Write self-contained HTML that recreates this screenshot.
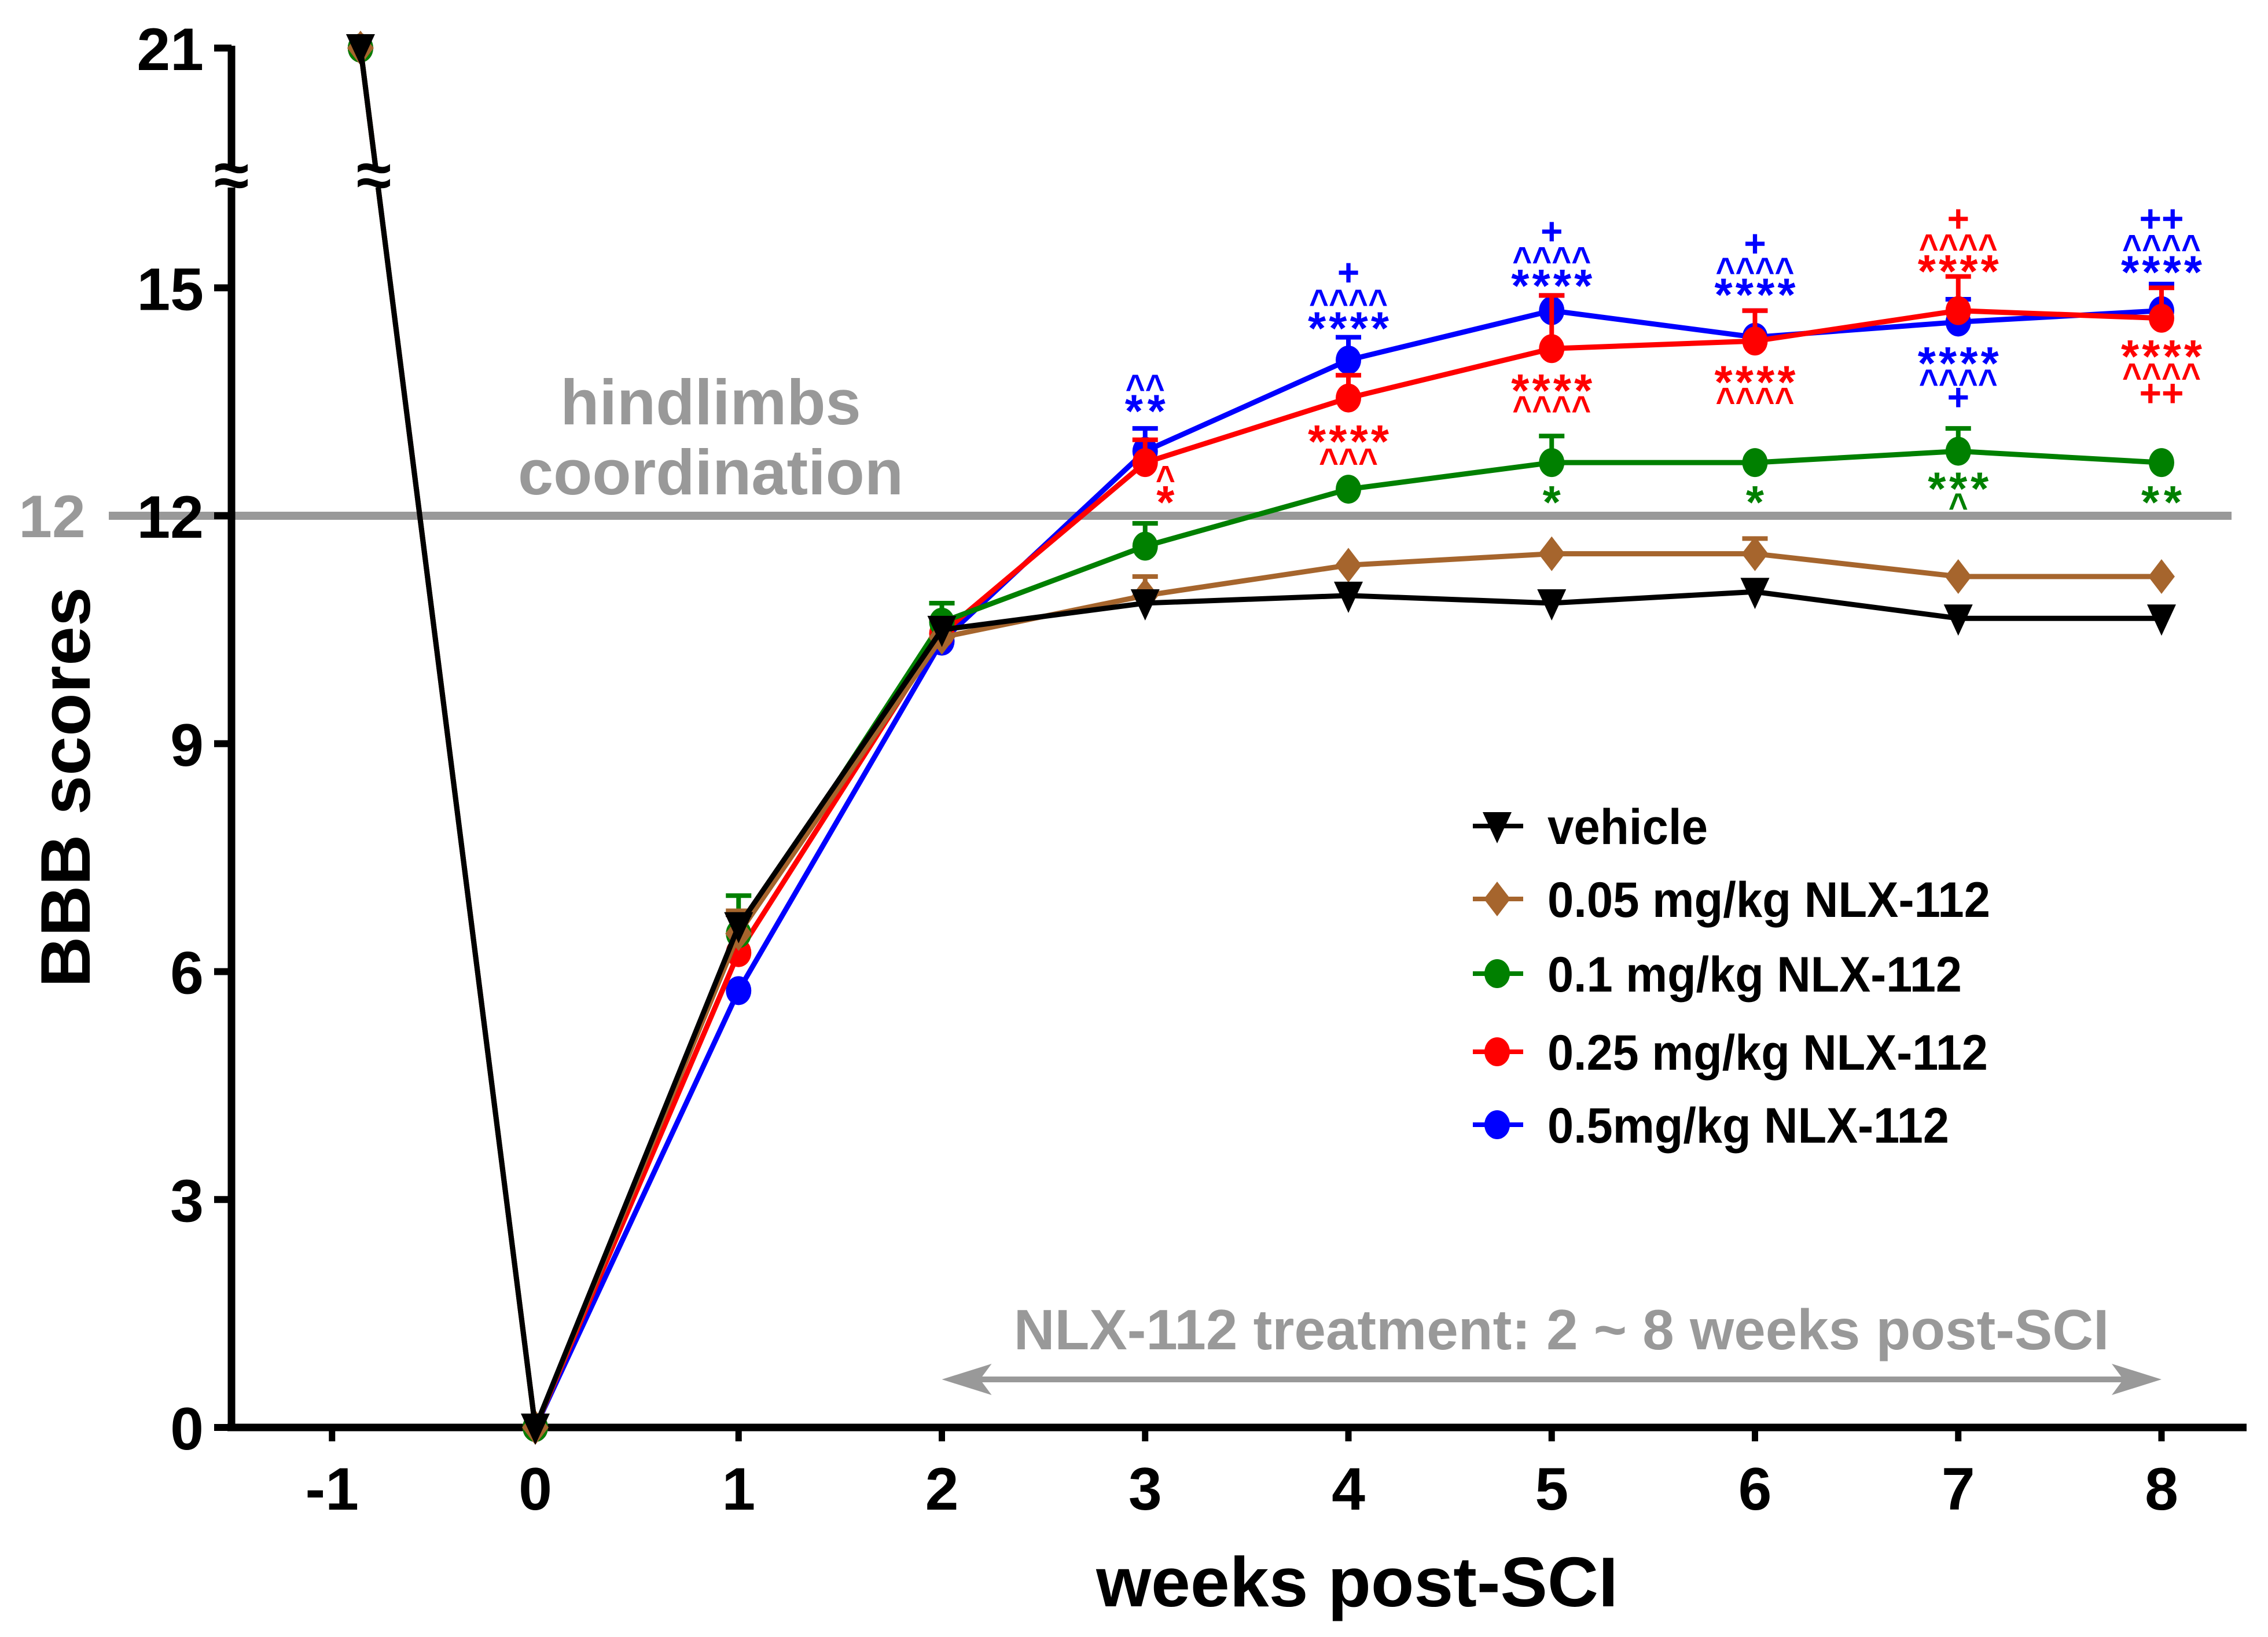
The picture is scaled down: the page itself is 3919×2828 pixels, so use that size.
<!DOCTYPE html>
<html><head><meta charset="utf-8"><style>
html,body{margin:0;padding:0;background:#fff}
svg{display:block;font-family:"Liberation Sans",Arial,sans-serif;font-weight:bold}
</style></head><body>
<svg id="chart" width="3919" height="2828" viewBox="0 0 3919 2828" xmlns="http://www.w3.org/2000/svg">
<g id="axes"></g>
<g id="plot"></g>
<g id="legend"></g>
</svg>
<script>
const weeks = [-0.86,0,1,2,3,4,5,6,7,8];
const vehicle = [21,0,6.6,10.5,10.85,10.95,10.85,11.0,10.65,10.65];
const dose005 = [21,0,6.5,10.4,10.95,11.35,11.5,11.5,11.2,11.2];
const dose01 = [21,0,6.5,10.6,11.6,12.35,12.7,12.7,12.85,12.7];
const dose025 = [21,0,6.25,10.45,12.7,13.55,14.2,14.3,14.7,14.6];
const dose05 = [21,0,5.75,10.35,12.85,14.05,14.7,14.35,14.55,14.7];
const errVehicle = [0,0,0.15,0.1,0.1,0.1,0.1,0.1,0.1,0.1];
const err005 = [0,0,0.3,0.1,0.25,0.1,0.1,0.2,0.1,0.1];
const err01 = [0,0,0.5,0.25,0.3,0.1,0.35,0.1,0.3,0.1];
const err025 = [0,0,0.5,0.2,0.3,0.3,0.7,0.4,0.45,0.4];
const err05 = [0,0,0.1,0.1,0.3,0.3,0.2,0.35,0.3,0.35];
const yTicks = [0,3,6,9,12,15,21];
const xTicks = [-1,0,1,2,3,4,5,6,7,8];
const seriesNames = ["vehicle","0.05 mg/kg NLX-112","0.1 mg/kg NLX-112","0.25 mg/kg NLX-112","0.5mg/kg NLX-112"];
// annotations: [week, level (data units), text, color]
const annotations = [
 [3,13.77,"^^","#0000ff"],[3,13.49,"**","#0000ff"],[3.1,12.57,"^","#ff0000"],[3.1,12.29,"*","#ff0000"],
 [4,15.2,"+","#0000ff"],[4,14.89,"^^^^","#0000ff"],[4,14.58,"****","#0000ff"],[4,13.09,"****","#ff0000"],[4,12.8,"^^^","#ff0000"],
 [5,15.74,"+","#0000ff"],[5,15.45,"^^^^","#0000ff"],[5,15.14,"****","#0000ff"],[5,13.76,"****","#ff0000"],[5,13.49,"^^^^","#ff0000"],[5,12.29,"*","#008000"],
 [6,15.58,"+","#0000ff"],[6,15.31,"^^^^","#0000ff"],[6,15.02,"****","#0000ff"],[6,13.87,"****","#ff0000"],[6,13.6,"^^^^","#ff0000"],[6,12.29,"*","#008000"],
 [7,15.91,"+","#ff0000"],[7,15.62,"^^^^","#ff0000"],[7,15.33,"****","#ff0000"],[7,14.12,"****","#0000ff"],[7,13.84,"^^^^","#0000ff"],[7,13.56,"+","#0000ff"],[7,12.47,"***","#008000"],[7,12.21,"^","#008000"],
 [8,15.91,"++","#0000ff"],[8,15.61,"^^^^","#0000ff"],[8,15.32,"****","#0000ff"],[8,14.21,"****","#ff0000"],[8,13.92,"^^^^","#ff0000"],[8,13.61,"++","#ff0000"],[8,12.29,"**","#008000"]
];
const NS="http://www.w3.org/2000/svg";
function X(w){return 925+w*351.25;}
function Y(v){ if(v>18) return 83; return 2466 - v*131.25; }
function mk(tag,attrs,parent){const e=document.createElementNS(NS,tag);for(const k in attrs)e.setAttribute(k,attrs[k]);parent.appendChild(e);return e;}
const axes=document.getElementById('axes'),plot=document.getElementById('plot'),legend=document.getElementById('legend');

let e=mk('line',{x1:188,x2:3856,y1:Y(12),y2:Y(12),stroke:'#999',"stroke-width":14},axes);


e=mk('text',{x:90,y:Y(12)+37,"text-anchor":"middle","font-size":104,fill:'#999'},axes);e.textContent="12";


e=mk('text',{x:1228,y:733,"text-anchor":"middle","font-size":110,fill:'#999'},axes);e.textContent="hindlimbs";


e=mk('text',{x:1228,y:854,"text-anchor":"middle","font-size":110,fill:'#999'},axes);e.textContent="coordination";



e=mk('line',{x1:400,x2:400,y1:Y(21)-4,y2:2472,stroke:'#000',"stroke-width":13},axes);


e=mk('line',{x1:393,x2:3882,y1:2466,y2:2466,stroke:'#000',"stroke-width":13},axes);


yTicks.forEach(t=>{
 const y=Y(t);
 const l=mk('line',{x1:370,x2:400,y1:y,y2:y,stroke:'#000',"stroke-width":12},axes);
 
 
 const tx=mk('text',{x:352,y:y+38,"text-anchor":"end","font-size":104,fill:'#000'},axes);tx.textContent=t;
 
 
});
xTicks.forEach(t=>{
 const x=X(t);
 const l=mk('line',{x1:x,x2:x,y1:2466,y2:2490,stroke:'#000',"stroke-width":11},axes);
 
 
 const tx=mk('text',{x:x,y:2608,"text-anchor":"middle","font-size":104,fill:'#000'},axes);tx.textContent=t;
 
 
});
e=mk('text',{x:2345,y:2775,"text-anchor":"middle","font-size":122,fill:'#000'},axes);e.textContent="weeks post-SCI";


e=mk('text',{x:155,y:1360,"text-anchor":"middle","font-size":122,fill:'#000',transform:'rotate(-90 155 1360)'},axes);e.textContent="BBB scores";



e=mk('text',{x:2698,y:2331,"text-anchor":"middle","font-size":98,fill:'#999'},axes);e.textContent="NLX-112 treatment: 2 ~ 8 weeks post-SCI";


e=mk('line',{x1:X(2)+30,x2:X(8)-30,y1:2383,y2:2383,stroke:'#999',"stroke-width":10},axes);


mk('polygon',{points:`${X(2)},2383 ${X(2)+86},2356 ${X(2)+66},2383 ${X(2)+86},2410`,fill:'#999'},axes);
mk('polygon',{points:`${X(8)},2383 ${X(8)-86},2356 ${X(8)-66},2383 ${X(8)-86},2410`,fill:'#999'},axes);

const series=[
 {vals:vehicle,err:errVehicle,color:'#000000',shape:'tri',name:'vehicle'},
 {vals:dose005,err:err005,color:'#a6652d',shape:'dia',name:'dose-0.05'},
 {vals:dose01,err:err01,color:'#008000',shape:'circ',name:'dose-0.1'},
 {vals:dose025,err:err025,color:'#ff0000',shape:'circ',name:'dose-0.25'},
 {vals:dose05,err:err05,color:'#0000ff',shape:'circ',name:'dose-0.5'}
];
function marker(shape,x,y,color,parent){
 if(shape==='tri') return mk('polygon',{points:`${x-25},${y-24} ${x+25},${y-24} ${x},${y+30}`,fill:color},parent);
 if(shape==='dia') return mk('polygon',{points:`${x},${y-30} ${x+23},${y} ${x},${y+30} ${x-23},${y}`,fill:color},parent);
 return mk('ellipse',{cx:x,cy:y,rx:22,ry:25,fill:color},parent);
}
[...series].reverse().forEach(s=>{
 const g=mk('g',{},plot);
 
 
 const pts=weeks.map((w,i)=>X(w)+','+Y(s.vals[i])).join(' ');
 const pl=mk('polyline',{points:pts,fill:'none',stroke:s.color,"stroke-width":9,"stroke-linejoin":"round"},g);
 
 
 weeks.forEach((w,i)=>{
  if(s.err[i]>0.12){
   const x=X(w),y1=Y(s.vals[i]),y2=Y(s.vals[i]+s.err[i]);
   const eb=mk('path',{d:`M${x},${y1}V${y2}M${x-22},${y2}H${x+22}`,stroke:s.color,"stroke-width":8,fill:'none'},g);
   
   
  }
  const m=marker(s.shape,X(w),Y(s.vals[i]),s.color,g);
  
  
 });
});
[[400,306],[646,306]].forEach(p=>{
 mk('rect',{x:p[0]-28,y:p[1]-18,width:56,height:36,fill:'#fff'},plot);
 const t=mk('text',{x:p[0],y:p[1]+34,"text-anchor":"middle","font-size":110,fill:'#000'},plot);t.textContent="≈";
 
 
});
annotations.forEach(a=>{
 const txt=a[2];
 const attrs={x:X(a[0]),y:Y(a[1])+22,"text-anchor":"middle","font-size":66,fill:a[3]};
 if(txt[0]==='*'){attrs.textLength=txt.length*35;attrs.lengthAdjust='spacing';attrs["font-size"]=80;attrs.y=Y(a[1])+42;}
 if(txt[0]==='^'){attrs.textLength=txt.length*34;attrs.lengthAdjust='spacingAndGlyphs';attrs["font-size"]=64;attrs.y=Y(a[1])+33;}
 const t=mk('text',attrs,plot);t.textContent=txt;
 
 
});
const legY=[1427,1553,1682,1817,1943];
const legW=[277,765,716,761,694];
series.forEach((s,i)=>{
 const g=mk('g',{},legend);
 
 
 mk('line',{x1:2545,x2:2632,y1:legY[i],y2:legY[i],stroke:s.color,"stroke-width":8},g);
 marker(s.shape,2587,legY[i],s.color,g);
 const t=mk('text',{x:2674,y:legY[i]+31,"font-size":86,fill:'#000',textLength:legW[i],lengthAdjust:'spacingAndGlyphs'},g);t.textContent=seriesNames[i];
});
</script>
</body></html>
